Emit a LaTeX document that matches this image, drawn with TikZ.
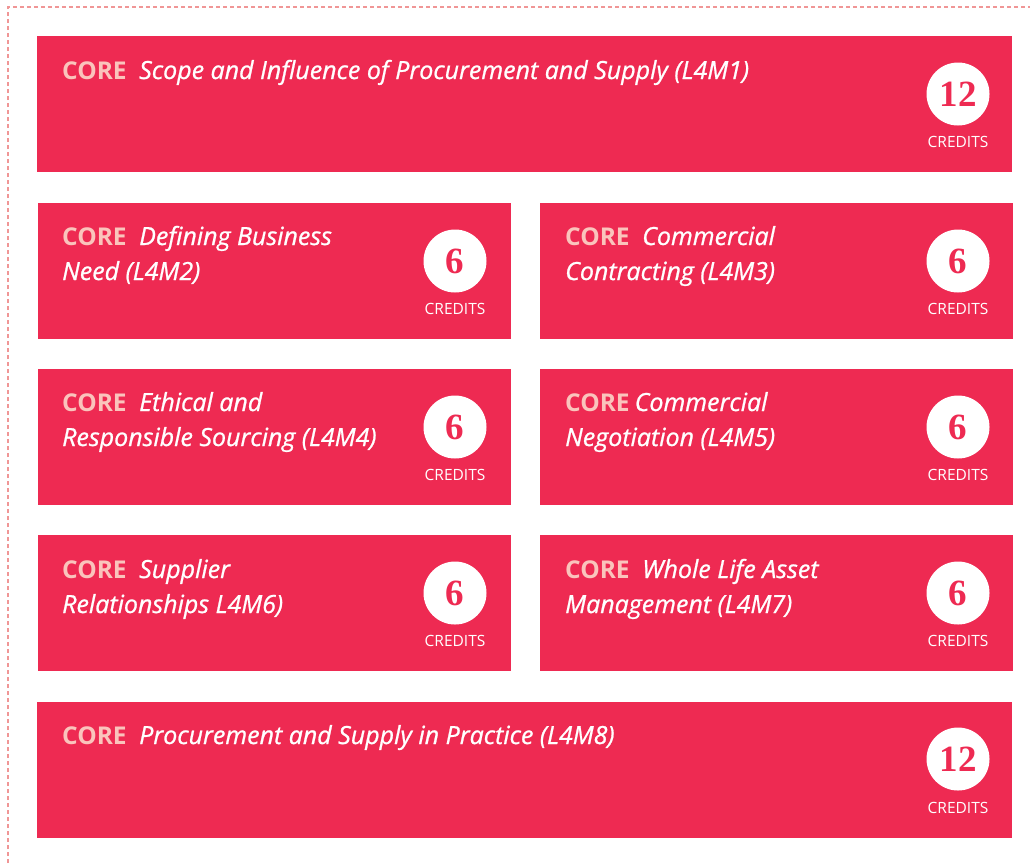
\documentclass[tikz,border=0pt]{standalone}
\usepackage{fontspec}
\setmainfont{Open Sans}[ItalicFeatures={FakeBold=0.9}]
\newfontfamily\numfont{Liberation Serif}
\definecolor{corered}{RGB}{238,42,82}
\definecolor{corepink}{RGB}{250,196,188}
\definecolor{dashpink}{RGB}{240,150,150}
\tikzset{
  modbox/.style={fill=corered, draw=none, inner sep=0pt, anchor=north west},
  credcircle/.style={circle, fill=white, minimum size=63pt, inner sep=0pt,
    text=corered, font=\numfont\bfseries\fontsize{37}{40}\selectfont},
  credtext/.style={text=white, inner sep=0pt, font=\fontsize{15.5}{18}\selectfont},
  titletext/.style={anchor=base west, inner sep=0pt, text=white,
    font=\fontsize{25}{30}\selectfont\itshape},
}
\newcommand{\corelbl}{{\color{corepink}\fontsize{24.5}{30}\selectfont\bfseries\upshape CORE}}
\begin{document}
\begin{tikzpicture}[x=1pt,y=-1pt]
\useasboundingbox (0,0) rectangle (1030,863);
\draw[dashpink, line width=1.2pt, dash pattern=on 4pt off 3pt] (8,863) -- (8,7) -- (1030,7);

% Row 1
\node[modbox, minimum width=975pt, minimum height=136pt] (m1) at (37,36) {};
\node[titletext] (t1) at (62,79) {\corelbl\hspace{0.5em}Scope and Influence of Procurement and Supply (L4M1)};
\node[credcircle] (c1) at (958,94) {12};
\node[credtext] (k1) at (958,142) {CREDITS};

% Row 2
\node[modbox, minimum width=473pt, minimum height=136pt] (m2) at (38,203) {};
\node[titletext] (t2a) at (62,245) {\corelbl\hspace{0.5em}Defining Business};
\node[titletext] (t2b) at (62,280) {Need (L4M2)};
\node[credcircle] (c2) at (455,261) {6};
\node[credtext] (k2) at (455,309) {CREDITS};

\node[modbox, minimum width=473pt, minimum height=136pt] (m3) at (540,203) {};
\node[titletext] (t3a) at (565,245) {\corelbl\hspace{0.5em}Commercial};
\node[titletext] (t3b) at (565,280) {Contracting (L4M3)};
\node[credcircle] (c3) at (958,261) {6};
\node[credtext] (k3) at (958,309) {CREDITS};

% Row 3
\node[modbox, minimum width=473pt, minimum height=136pt] (m4) at (38,369) {};
\node[titletext] (t4a) at (62,411) {\corelbl\hspace{0.5em}Ethical and};
\node[titletext] (t4b) at (62,446) {Responsible Sourcing (L4M4)};
\node[credcircle] (c4) at (455,427) {6};
\node[credtext] (k4) at (455,475) {CREDITS};

\node[modbox, minimum width=473pt, minimum height=136pt] (m5) at (540,369) {};
\node[titletext] (t5a) at (565,411) {\corelbl\hspace{0.2em}Commercial};
\node[titletext] (t5b) at (565,446) {Negotiation (L4M5)};
\node[credcircle] (c5) at (958,427) {6};
\node[credtext] (k5) at (958,475) {CREDITS};

% Row 4
\node[modbox, minimum width=473pt, minimum height=136pt] (m6) at (38,535) {};
\node[titletext] (t6a) at (62,578) {\corelbl\hspace{0.5em}Supplier};
\node[titletext] (t6b) at (62,613) {Relationships L4M6)};
\node[credcircle] (c6) at (455,593) {6};
\node[credtext] (k6) at (455,641) {CREDITS};

\node[modbox, minimum width=473pt, minimum height=136pt] (m7) at (540,535) {};
\node[titletext] (t7a) at (565,578) {\corelbl\hspace{0.5em}Whole Life Asset};
\node[titletext] (t7b) at (565,613) {Management (L4M7)};
\node[credcircle] (c7) at (958,593) {6};
\node[credtext] (k7) at (958,641) {CREDITS};

% Row 5
\node[modbox, minimum width=975pt, minimum height=136pt] (m8) at (37,702) {};
\node[titletext] (t8) at (62,744) {\corelbl\hspace{0.5em}Procurement and Supply in Practice (L4M8)};
\node[credcircle] (c8) at (958,759) {12};
\node[credtext] (k8) at (958,808) {CREDITS};
\end{tikzpicture}
\end{document}
